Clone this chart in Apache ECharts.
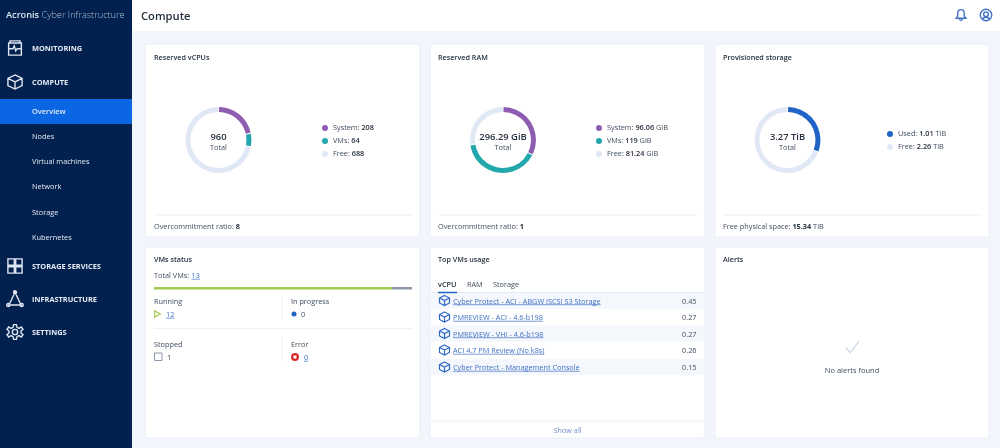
<!DOCTYPE html>
<html>
<head>
<meta charset="utf-8">
<title>Compute</title>
<style>
html,body{margin:0;padding:0;background:#f2f5fb;}
#main{width:1000px;height:448px;}
</style>
<script src="https://cdn.jsdelivr.net/npm/echarts@6/dist/echarts.min.js"></script>
</head>
<body>
<div id="main"></div>
<script>
// dashboard values
var vcpuNames=["System","VMs","Free"];
var vcpuValues=[208,64,688];
var vcpuLabels=["208","64","688"];
var ramNames=["System","VMs","Free"];
var ramValues=[96.06,119,81.24];
var ramLabels=["96.06 GiB","119 GiB","81.24 GiB"];
var storageNames=["Used","Free"];
var storageValues=[1.01,2.26];
var storageLabels=["1.01 TiB","2.26 TiB"];
var statusNames=["Running","Stopped"];
var statusValues=[12,1];
var topVmNames=["Cyber Protect - ACI - ABGW iSCSI S3 Storage","PMREVIEW - ACI - 4.6-b198","PMREVIEW - VHI - 4.6-b198","ACI 4.7 PM Review (No k8s)","Cyber Protect - Management Console"];
var topVmValues=["0.45","0.27","0.27","0.26","0.15"];
var navSub=["Overview","Nodes","Virtual machines","Network","Storage","Kubernetes"];

var FONT='"Open Sans"';
var TEXT='#3f4d5e';
var DARK='#26313f';
var LINK='#3f70c2';
var NAVY='#03214f';
var BODY=7.3;
var TITLE=7.2;
var NAV=7.4;
var colors={System:'#8e5cb0',VMs:'#22a7ad',Free:'#e0e8f6',Used:'#1f63c6'};

var myChart=echarts.init(document.getElementById('main'));
var g=[];

var measure=document.createElement('canvas').getContext('2d');
function txt(x,y,s,size,color,weight,align){
	g.push({type:'text',x:x,y:y+1,z:5,style:{text:s,fontFamily:FONT,fontSize:size,fill:color,fontWeight:weight||400,align:align||'left',verticalAlign:'middle'}});
}
function box(x,y,w,h,fill,r,stroke){
	g.push({type:'rect',z:1,shape:{x:x,y:y,width:w,height:h,r:r||0},style:{fill:fill,stroke:stroke||null,lineWidth:stroke?1:0}});
}
function line(x1,y1,x2,y2,color,w){
	g.push({type:'line',z:3,shape:{x1:x1,y1:y1,x2:x2,y2:y2},style:{stroke:color,lineWidth:w||1}});
}
// icons are drawn on a 24 unit box, registered once and then scaled
var iconPaths={
	monitor:'M3 5 H21 V22 H3 Z M5 2 H19 V5 H5 Z M3 13 H9 L11 9 L13 16 L15 13 H21',
	cube:'M12 2 L22 7 V17 L12 22 L2 17 V7 Z M2 7 L12 12 L22 7 M12 12 V22',
	grid4:'M2 2 H11 V11 H2 Z M13 2 H22 V11 H13 Z M2 13 H11 V22 H2 Z M13 13 H22 V22 H13 Z',
	tri:'M12 3 L4 20 H20 Z M12 1 A2 2 0 1 0 12 5 A2 2 0 1 0 12 1 M3 18 A2 2 0 1 0 3 22 A2 2 0 1 0 3 18 M21 18 A2 2 0 1 0 21 22 A2 2 0 1 0 21 18',
	gear:'M10 1 H14 L15 5 L18 6.5 L21.5 4.5 L24 8 L21 10.5 V13.5 L24 16 L21.5 19.5 L18 17.5 L15 19 L14 23 H10 L9 19 L6 17.5 L2.5 19.5 L0 16 L3 13.5 V10.5 L0 8 L2.5 4.5 L6 6.5 L9 5 Z M12 8 A4 4 0 1 0 12 16 A4 4 0 1 0 12 8',
	bell:'M12 2 C8 2 6 5 6 9 V14 L3 18 H21 L18 14 V9 C18 5 16 2 12 2 Z M9 20 C10 22.5 14 22.5 15 20',
	user:'M12 1 A11 11 0 1 0 12 23 A11 11 0 1 0 12 1 M12 6 A4.5 4.5 0 1 0 12 15 A4.5 4.5 0 1 0 12 6 M5 20 C7 15 17 15 19 20',
	play:'M3 2 L21 12 L3 22 Z',
	check:'M2 13 L9 21 L23 3'
};
for(var k in iconPaths){
	echarts.graphic.registerShape('ico_'+k,echarts.graphic.extendPath(iconPaths[k],{}));
}
function icon(name,x,y,s,color,w){
	var sc=s/24;
	g.push({type:'ico_'+name,z:4,x:x-s/2,y:y-s/2,scaleX:sc,scaleY:sc,style:{fill:null,stroke:color,lineWidth:(w||1.4)/sc}});
}
function link(x,y,s,size){
	txt(x,y,s,size,LINK);
	measure.font=size+'px '+FONT;
	line(x,y+4.2,x+measure.measureText(s).width,y+4.2,LINK,0.7);
}

// page frame
box(132,0,868,31,'#ffffff');
box(0,0,132,448,NAVY);
box(0,99,132,25,'#0a66e3');
txt(141,15.5,'Compute',11.2,DARK,600);
g.push({type:'text',x:6,y:15.5,z:5,style:{text:'{a|Acronis }{b|Cyber Infrastructure}',verticalAlign:'middle',rich:{
	a:{fontFamily:FONT,fontSize:9.2,fontWeight:600,fill:'#dfe6f2'},
	b:{fontFamily:FONT,fontSize:9.2,fontWeight:300,fill:'#aebbd0'}}}});

// nav
txt(32,48,'MONITORING',NAV,'#e4eaf4',700);
txt(32,82,'COMPUTE',NAV,'#e4eaf4',700);
txt(32,266,'STORAGE SERVICES',NAV,'#e4eaf4',700);
txt(32,299,'INFRASTRUCTURE',NAV,'#e4eaf4',700);
txt(32,332,'SETTINGS',NAV,'#e4eaf4',700);
var subY=[111,136,161,186,212,237];
for(var i=0;i<navSub.length;i++){
	txt(32,subY[i],navSub[i],NAV,'#e4eaf4',i==0?600:400);
}
icon('monitor',15,48,17,'#dfe6f2');
icon('cube',15,82,17,'#dfe6f2');
icon('grid4',15,266,17,'#dfe6f2');
icon('tri',15,299,18,'#dfe6f2');
icon('gear',15,332,16,'#dfe6f2');

// top right icons
icon('bell',961,15,13,'#3f70c2');
icon('user',986,15,12.5,'#3f70c2');

// panels
var panelX=[145,430,715];
var panelW=[275,275,274];
for(var i=0;i<3;i++){
	box(panelX[i],44,panelW[i],193,'#ffffff',2,'#e9eef7');
	box(panelX[i],247,panelW[i],191,'#ffffff',2,'#e9eef7');
	line(panelX[i]+9,215,panelX[i]+267,215,'#e9eef7');
}
function footer(x,label,val,unit){
	g.push({type:'text',x:x,y:227,z:5,style:{text:'{a|'+label+' }{b|'+val+'}'+(unit?'{a| '+unit+'}':''),verticalAlign:'middle',rich:{
		a:{fontFamily:FONT,fontSize:BODY,fill:TEXT},
		b:{fontFamily:FONT,fontSize:BODY,fontWeight:700,fill:DARK}}}});
}
txt(154,57,'Reserved vCPUs',TITLE,DARK,600);
txt(438,57,'Reserved RAM',TITLE,DARK,600);
txt(723,57,'Provisioned storage',TITLE,DARK,600);
footer(154,'Overcommitment ratio:','8');
footer(438,'Overcommitment ratio:','1');
footer(723,'Free physical space:','15.34','TiB');

// donut centre text
txt(218.5,136.5,'960',9.4,DARK,600,'center');
txt(218.5,146.5,'Total',BODY,TEXT,400,'center');
txt(503,136.5,'296.29 GiB',9.4,DARK,600,'center');
txt(503,146.5,'Total',BODY,TEXT,400,'center');
txt(787.5,136.5,'3.27 TiB',9.4,DARK,600,'center');
txt(787.5,146.5,'Total',BODY,TEXT,400,'center');

// VMs status
txt(154,258.5,'VMs status',TITLE,DARK,600);
txt(154,275,'Total VMs:',BODY,TEXT);
link(191.5,275,'13',BODY);
txt(154,301,'Running',BODY,TEXT);
txt(291,301,'In progress',BODY,TEXT);
txt(154,343.5,'Stopped',BODY,TEXT);
txt(291,343.5,'Error',BODY,TEXT);
icon('play',157.5,314,7.5,'#a5cc52',1.2);
link(166,314,String(statusValues[0]),BODY);
g.push({type:'circle',z:4,shape:{cx:294,cy:314,r:2.5},style:{fill:'#1f63c6'}});
txt(301,314,'0',BODY,TEXT);
g.push({type:'rect',z:4,shape:{x:154.5,y:353,width:7.5,height:7.5},style:{fill:null,stroke:'#8e97a8',lineWidth:1}});
txt(167,357,String(statusValues[1]),BODY,TEXT);
g.push({type:'circle',z:4,shape:{cx:295,cy:357,r:4},style:{fill:'#db2a2a'}});
g.push({type:'rect',z:5,shape:{x:293.5,y:355.5,width:3,height:3},style:{fill:'#ffffff'}});
link(304,357,'0',BODY);
line(282,295,282,320,'#edf1f8');
line(282,337,282,363,'#edf1f8');
line(154,328.5,412,328.5,'#edf1f8');

// Top VMs usage
txt(438,258.5,'Top VMs usage',TITLE,DARK,600);
txt(438,283.5,'vCPU',BODY,DARK,600);
txt(467,283.5,'RAM',BODY,TEXT);
txt(493,283.5,'Storage',BODY,TEXT);
line(431,292.5,704,292.5,'#e3eaf6',1.2);
line(438,292.5,457,292.5,'#1f63c6',1.5);
var rowY=[300.5,317,333.5,350,367];
for(var i=0;i<topVmNames.length;i++){
	if(i%2==0){
		box(431,rowY[i]-8.3,273,16.6,'#f4f7fc');
	}
	icon('cube',444.5,rowY[i],12,'#2f69c6',1.2);
	link(453,rowY[i],topVmNames[i],BODY);
	txt(696.5,rowY[i],topVmValues[i],BODY,TEXT,400,'right');
}
line(431,421,704,421,'#e9eef7');
txt(567.5,429.5,'Show all',BODY,'#6f8fc9',400,'center');

// Alerts
txt(723,258.5,'Alerts',TITLE,DARK,600);
icon('check',852,347,15,'#c9d3e2',1.2);
txt(852,370,'No alerts found',7.5,TEXT,400,'center');

function pieData(names,values){
	var arr=[];
	for(var i=0;i<names.length;i++){
		arr.push({name:names[i],value:values[i],itemStyle:{color:colors[names[i]]}});
	}
	return arr;
}
function donut(cx,names,values){
	return {
		type:'pie',
		center:[cx,140],
		radius:[28,33],
		startAngle:90,
		padAngle:2,
		silent:true,
		label:{show:false},
		labelLine:{show:false},
		data:pieData(names,values)
	};
}
function legendFor(left,top,names,labels){
	return {
		left:left,
		top:top,
		padding:0,
		orient:'vertical',
		icon:'circle',
		itemWidth:6,
		itemHeight:6,
		itemGap:6,
		data:names,
		selectedMode:false,
		formatter:function(name){
			// number is bold, unit stays regular
			var parts=labels[names.indexOf(name)].split(' ');
			return '{a|'+name+': }{b|'+parts[0]+'}'+(parts[1]?'{a| '+parts[1]+'}':'');
		},
		textStyle:{
			rich:{
				a:{fontFamily:FONT,fontSize:BODY,color:TEXT,lineHeight:9},
				b:{fontFamily:FONT,fontSize:BODY,fontWeight:600,color:DARK,lineHeight:9}
			}
		}
	};
}

option={
	backgroundColor:'#f2f5fb',
	animation:false,
	graphic:{elements:g},
	legend:[
		legendFor(322,124.5,vcpuNames,vcpuLabels),
		legendFor(596,124.5,ramNames,ramLabels),
		legendFor(887,130.5,storageNames,storageLabels)
	],
	grid:{left:154,width:258,top:287,height:2.5},
	xAxis:{type:'value',min:0,max:13,show:false},
	yAxis:{type:'category',data:['VMs'],show:false},
	series:[
		donut(218.5,vcpuNames,vcpuValues),
		donut(503,ramNames,ramValues),
		donut(787.5,storageNames,storageValues),
		{type:'bar',stack:'vms',name:statusNames[0],barWidth:2.5,silent:true,itemStyle:{color:'#a5cc52'},data:[statusValues[0]]},
		{type:'bar',stack:'vms',name:statusNames[1],barWidth:2.5,silent:true,itemStyle:{color:'#8e97a8'},data:[statusValues[1]]}
	]
};
myChart.setOption(option);
</script>
</body>
</html>
